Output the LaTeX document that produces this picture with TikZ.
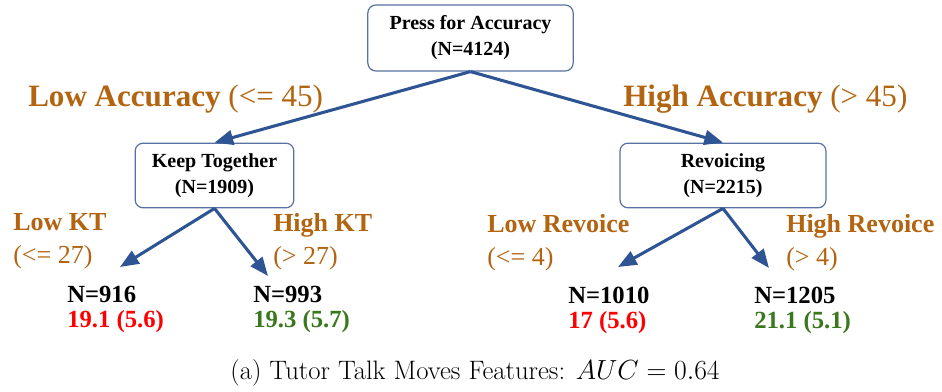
\documentclass[tikz,border=0pt]{standalone}
\usepackage{fontspec}
\usepackage{tikz}
\usetikzlibrary{arrows.meta}
\newfontfamily\treefont{Liberation Serif}
\definecolor{splitbrown}{RGB}{178,100,16}
\definecolor{arrowblue}{RGB}{46,84,148}
\definecolor{boxblue}{RGB}{88,114,162}
\definecolor{lowred}{RGB}{255,0,0}
\definecolor{highgreen}{RGB}{58,120,30}
\tikzset{split/.style={draw=boxblue, line width=0.9pt, rounded corners=6pt,
         fill=white, align=center,
         font=\treefont\bfseries\fontsize{15}{19.5}\selectfont},
         branch/.style={draw=arrowblue, line width=2.3pt,
         -{Triangle[length=14pt,width=11pt]}},
         cut/.style={splitbrown, inner sep=0pt, align=left,
         font=\treefont\fontsize{19.5}{25}\selectfont},
         leaf/.style={anchor=north west, inner sep=0pt, align=left,
         font=\treefont\bfseries\fontsize{18.5}{18.5}\selectfont}}

\begin{document}
\begin{tikzpicture}[x=0.75pt,y=-0.75pt]
    \useasboundingbox (0,0) rectangle (942,392);

    % split nodes
    \node[split, minimum width=154pt, minimum height=49.5pt] (press) at (470.5,38) {Press for Accuracy\\(N=4124)};
    \node[split, minimum width=119pt, minimum height=48.5pt] (keep) at (214.5,175.5) {Keep Together\\(N=1909)};
    \node[split, minimum width=154.5pt, minimum height=48.5pt] (revoice) at (723,175.5) {Revoicing\\(N=2215)};

    \node[cut, anchor=base west, font=\treefont\fontsize{23.3}{28}\selectfont] (lowacc) at (28,107) {\textbf{Low Accuracy} (<= 45)};
    \node[cut, anchor=base west, font=\treefont\fontsize{23.3}{28}\selectfont] (highacc) at (623,107) {\textbf{High Accuracy} (> 45)};

    \node[cut, anchor=north west] (lowkt) at (13,213) {\textbf{Low KT}\\(<= 27)};
    \node[cut, anchor=north west] (highkt) at (273,213) {\textbf{High KT}\\(> 27)};
    \node[cut, anchor=north west] (lowrv) at (487,214) {\textbf{Low Revoice}\\(<= 4)};
    \node[cut, anchor=north west] (highrv) at (786,214) {\textbf{High Revoice}\\(> 4)};

    % leaves
    \node[leaf] (leafa) at (67,286) {N=916\\\textcolor{lowred}{19.1 (5.6)}};
    \node[leaf] (leafb) at (253,286) {N=993\\\textcolor{highgreen}{19.3 (5.7)}};
    \node[leaf] (leafc) at (568,287) {N=1010\\\textcolor{lowred}{17 (5.6)}};
    \node[leaf] (leafd) at (754,287) {N=1205\\\textcolor{highgreen}{21.1 (5.1)}};

    \coordinate (ktlow) at (120,267);
    \coordinate (kthigh) at (268,276);
    \coordinate (rvlow) at (618,267);
    \coordinate (rvhigh) at (769,268);

    \draw[branch] (press.south) -- (keep.north);
    \draw[branch] (press.south) -- (revoice.north);
    \draw[branch] (keep.south) -- (ktlow);
    \draw[branch] (keep.south) -- (kthigh);
    \draw[branch] (revoice.south) -- (rvlow);
    \draw[branch] (revoice.south) -- (rvhigh);

    \node[font=\fontsize{20}{24}\selectfont] (caption) at (475,373) {(a) Tutor Talk Moves Features: $AUC = 0.64$};
\end{tikzpicture}
\end{document}
